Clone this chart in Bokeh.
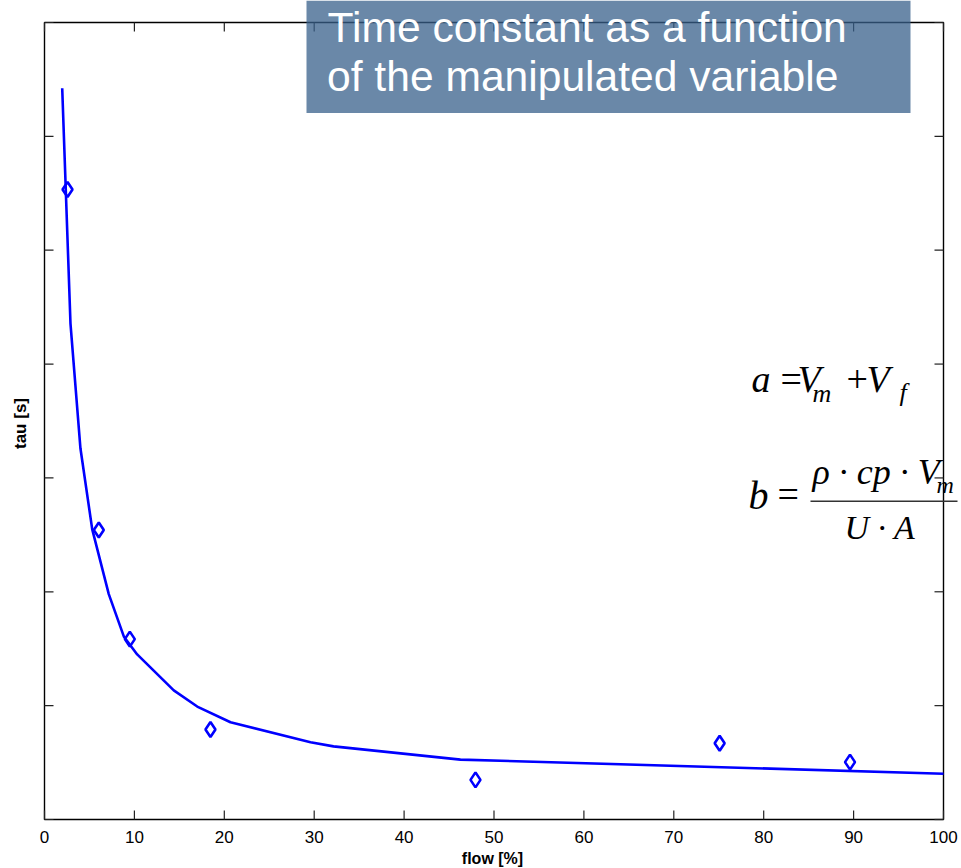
import math
from bokeh.plotting import figure
from bokeh.models import BoxAnnotation, Range1d
from bokeh.core.properties import value
from bokeh.embed import file_html
from bokeh.resources import INLINE

# ---- data ----
line_flow = [1.97, 2.89, 4.00, 5.31, 7.15, 8.82, 10.31, 14.38, 16.99, 20.69, 29.59, 32.15, 46.27, 100.0]
line_tau = [321.1, 217.8, 162.9, 127.4, 99.0, 80.4, 72.5, 56.7, 49.6, 42.7, 33.9, 32.1, 26.3, 20.1]
meas_flow = [2.56, 6.04, 9.49, 18.46, 47.94, 75.1, 89.6]
meas_tau = [276.7, 127.1, 79.2, 39.5, 17.4, 33.5, 25.2]
x_ticks = [0, 10, 20, 30, 40, 50, 60, 70, 80, 90, 100]
x_tick_labels = ["0", "10", "20", "30", "40", "50", "60", "70", "80", "90", "100"]
y_ticks = [0, 50, 100, 150, 200, 250, 300, 350]
x_label = "flow [%]"
y_label = "tau [s]"
title_lines = ["Time constant as a function", "of the manipulated variable"]

X_MIN, X_MAX = 0, 100
Y_MIN, Y_MAX = 0, 350

# axes-box geometry in pixels (canvas is 961 x 868)
FL, FR, FT, FB = 44, 943, 22, 819
W, H = 961, 868
SX = (FR - FL) / (X_MAX - X_MIN)   # px per x unit
SY = (FB - FT) / (Y_MAX - Y_MIN)   # px per y unit
BASE_FIX = 0.38  # the svg text sits about this many em below the requested baseline


def dx(px):
    return X_MIN + (px - FL) / SX


def dy(py):
    return Y_MIN + (FB - py) / SY


# the frame covers the whole canvas so that nothing is clipped; the axes are drawn by hand
p = figure(width=W, height=H, x_range=Range1d(dx(0), dx(W)), y_range=Range1d(dy(H), dy(0)),
           output_backend="svg", toolbar_location=None,
           x_axis_location=None, y_axis_location=None,
           min_border_left=0, min_border_right=0, min_border_top=0, min_border_bottom=0,
           background_fill_color="white", border_fill_color="white")
p.outline_line_color = None
p.xgrid.visible = False
p.ygrid.visible = False

SANS = "Liberation Sans"
SERIF = "Liberation Serif"
TICK = 9  # px


def txt(px, py, s, size, font=SANS, style="normal", color="black", align="left",
        baseline="alphabetic", angle=0.0):
    if baseline == "alphabetic":
        py = py - BASE_FIX * size
    p.text(x=[dx(px)], y=[dy(py)], text=[s], text_font=value(font), text_font_size=f"{size}px",
           text_font_style=style, text_color=color, text_align=align, text_baseline=baseline,
           angle=angle)


# axes box
p.quad(left=X_MIN, right=X_MAX, bottom=Y_MIN, top=Y_MAX, fill_color=None,
       line_color="black", line_width=1.4)
# ticks (inward, mirrored on all four sides)
n_x, n_y = len(x_ticks), len(y_ticks)
p.segment(x0=x_ticks, y0=[Y_MIN] * n_x, x1=x_ticks, y1=[Y_MIN + TICK / SY] * n_x,
          line_color="#222222", line_width=1.2)
p.segment(x0=x_ticks, y0=[Y_MAX] * n_x, x1=x_ticks, y1=[Y_MAX - TICK / SY] * n_x,
          line_color="#222222", line_width=1.2)
p.segment(x0=[X_MIN] * n_y, y0=y_ticks, x1=[X_MIN + TICK / SX] * n_y, y1=y_ticks,
          line_color="#222222", line_width=1.2)
p.segment(x0=[X_MAX] * n_y, y0=y_ticks, x1=[X_MAX - TICK / SX] * n_y, y1=y_ticks,
          line_color="#222222", line_width=1.2)
# x tick labels
p.text(x=x_ticks, y=[dy(842.5 - BASE_FIX * 17)] * n_x, text=x_tick_labels, text_font=value(SANS),
       text_font_size="17px", text_color="black", text_align="center", text_baseline="alphabetic")

# data
p.line(line_flow, line_tau, line_color="#0000FF", line_width=2.6)
p.scatter(meas_flow, meas_tau, marker="diamond", size=15, fill_color=None,
          line_color="#0000FF", line_width=2.6)

# title box (semi-opaque, drawn over the axes line, under its text)
p.quad(left=[dx(306)], right=[dx(910)], top=[dy(0)], bottom=[dy(112.5)],
       fill_color="#38608B", fill_alpha=0.75, line_color=None)
txt(327, 42.7, title_lines[0], 42.6, color="white")
txt(326.5, 92, title_lines[1], 42.6, color="white")

# axis labels
txt(492, 864, x_label, 16, style="bold", align="center")
txt(20, 423, y_label, 17, style="bold", align="center", baseline="middle", angle=math.pi / 2)


def eq(px, py, s, size, italic=True):
    txt(px, py, s, size, font=SERIF, style="italic" if italic else "normal")


# a = V_m + V_f
eq(751, 393, "a", 38)
eq(780, 393, "=", 38, italic=False)
eq(797, 393, "V", 38)
eq(812, 403, "m", 26)
eq(846, 393, "+", 38, italic=False)
eq(866, 393, "V", 38)
eq(899, 402, "f", 26)

# b = rho*cp*V_m / (U*A)
eq(748, 510, "b", 40)
eq(777, 508, "=", 38, italic=False)
eq(812, 485, "ρ · cp · V", 36)
eq(936, 494, "m", 24)
eq(844, 540, "U · A", 34)
p.add_layout(BoxAnnotation(left=dx(810), right=dx(957), top=dy(500), bottom=dy(501.6),
                           fill_color="#333333", fill_alpha=1.0, line_color=None))

open("out.html", "w").write(file_html(p, INLINE))
